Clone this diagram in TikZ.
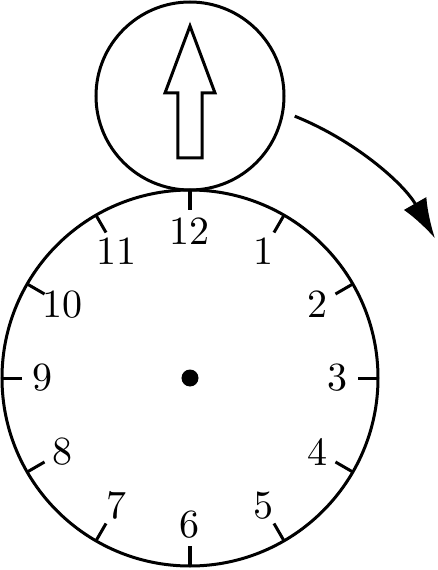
\documentclass[tikz,border=0pt]{standalone}
\usepackage{fontspec}
\newfontfamily\lmten{lmroman10-regular.otf}
\usetikzlibrary{arrows.meta}
\begin{document}
\begin{tikzpicture}[x=1pt,y=1pt,
  line/.style={line width=3pt},
  tick/.style={line width=3pt},
  num/.style={font=\lmten\fontsize{40}{48}\selectfont, inner sep=0pt},
  turn/.style={line width=3pt, -{Latex[length=40pt,width=26pt]}}]
\useasboundingbox (-190,-192) rectangle (247,378);
% big clock face
\node[line, draw, circle, minimum size=376pt, inner sep=0pt] (face) at (0,0) {};
\fill (0,0) circle[radius=8.5pt];
% ticks and numbers
\foreach \h in {1,...,12}{
  \draw[tick] ({90-30*\h}:168) -- ({90-30*\h}:188);
  \node[num] (n\h) at ({90-30*\h}:147) {\h};
}
% small circle with arrow
\node[line, draw, circle, minimum size=188pt, inner sep=0pt] (dial) at (0,282) {};
\draw[line, line join=miter] (-12,220) -- (-12,285) -- (-25,285) -- (0,352) -- (25,285) -- (12,285) -- (12,220) -- cycle;
% turning arrow
\coordinate (s) at (68.2:282);
\draw[turn] (s) arc[start angle=68.2, end angle=29.7, radius=282];
\end{tikzpicture}
\end{document}
